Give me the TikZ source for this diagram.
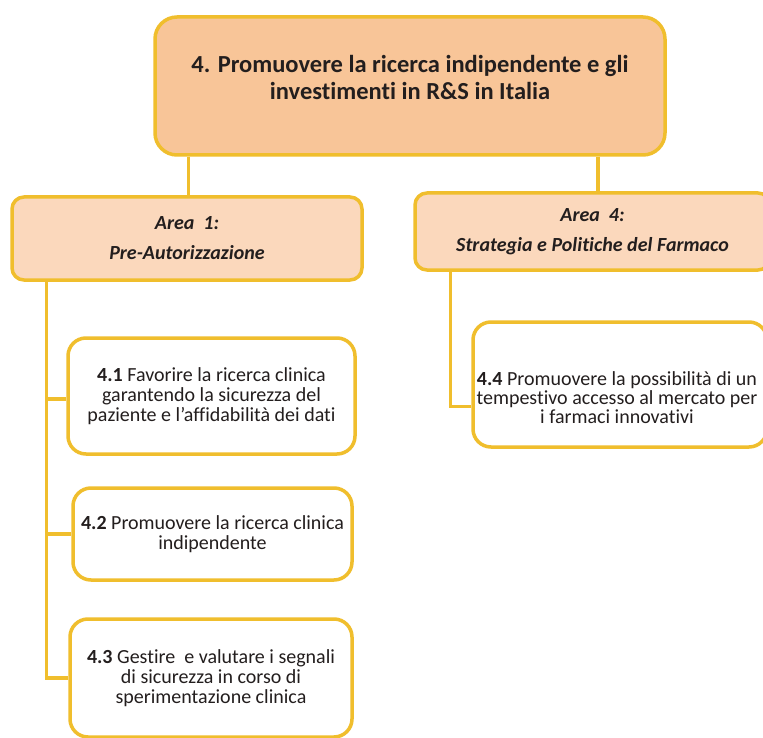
\documentclass[tikz,border=0pt]{standalone}
\usepackage{fontspec}
\setmainfont{Carlito}[Ligatures={NoCommon}]
\definecolor{gold}{RGB}{240,190,45}
\definecolor{topfill}{RGB}{248,197,152}
\definecolor{areafill}{RGB}{251,216,188}
\definecolor{txt}{RGB}{35,30,30}
\tikzset{
  box/.style={draw=gold, line width=3.5pt, rounded corners=18pt, inner sep=0pt, text=txt, align=center},
  topbox/.style={box, fill=topfill, rounded corners=22pt},
  areabox/.style={box, fill=areafill, rounded corners=12pt, font=\fontsize{20}{30}\selectfont\bfseries\itshape},
  itembox/.style={box, fill=white, font=\fontsize{20}{20}\selectfont},
  link/.style={draw=gold, line width=3.5pt}
}
\begin{document}
\begin{tikzpicture}[x=1pt,y=-1pt]
\useasboundingbox (0,0) rectangle (763,738);
\clip (0,0) rectangle (763,738);
\fill[white] (0,0) rectangle (763,738);

\node[topbox, minimum width=510pt, minimum height=138pt] (top) at (410,86) {};
\node[text=txt, align=center, font=\fontsize{24.5}{27}\selectfont\bfseries] (toptext) at (410,77)
  {4. Promuovere la ricerca indipendente e gli\\investimenti in R\&S in Italia};

\node[areabox, minimum width=350pt, minimum height=83pt] (area1) at (187,238.5)
  {Area~~1:\\Pre-Autorizzazione};
\node[areabox, minimum width=355pt, minimum height=77pt] (area4) at (592.5,231.5)
  {Area~~4:\\Strategia e Politiche del Farmaco};

\node[itembox, minimum width=287pt, minimum height=116pt] (b41) at (211.5,396)
  {\textbf{4.1} Favorire la ricerca clinica\\garantendo la sicurezza del\\paziente e l'affidabilità dei dati};
\node[itembox, minimum width=279pt, minimum height=92pt] (b42) at (212.5,534)
  {\textbf{4.2} Promuovere la ricerca clinica\\indipendente};
\node[itembox, minimum width=282pt, minimum height=118pt] (b43) at (211,678)
  {\textbf{4.3} Gestire~ e valutare i segnali\\di sicurezza in corso di\\sperimentazione clinica};
\node[itembox, minimum width=294pt, minimum height=125pt] (b44) at (620,384.5) {};
\node[text=txt, align=center, inner sep=0pt, font=\fontsize{20}{19}\selectfont] (t44) at (617,398)
  {\textbf{4.4} Promuovere la possibilità di un\\tempestivo accesso al mercato per\\i farmaci innovativi};

% connectors
\draw[link] ([xshift=35pt]top.south west) -- ([xshift=35pt]top.south west |- area1.north);
\draw[link] ([xshift=-69pt]top.south east) -- ([xshift=-69pt]top.south east |- area4.north);
\draw[link] ([xshift=36pt]area1.south west) |- ([yshift=-3pt]b41.west);
\draw[link] ([xshift=36pt]area1.south west) |- (b42.west);
\draw[link] ([xshift=36pt]area1.south west) |- (b43.west);
\draw[link] ([xshift=37pt]area4.south west) |- ([yshift=-22pt]b44.west);
\end{tikzpicture}
\end{document}
